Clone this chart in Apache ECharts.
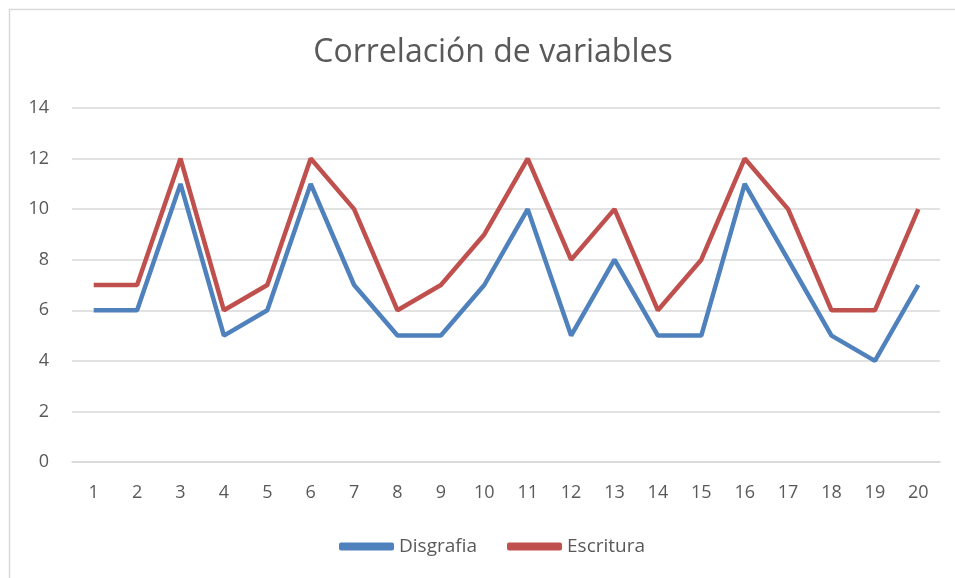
<!DOCTYPE html>
<html><head><meta charset="utf-8">
<script src="https://cdn.jsdelivr.net/npm/echarts@6/dist/echarts.min.js"></script>
<style>html,body{margin:0;padding:0;background:#fff}#c{width:955px;height:578px}</style>
</head><body><div id="c"></div>
<script>
const categories = ['1','2','3','4','5','6','7','8','9','10','11','12','13','14','15','16','17','18','19','20'];
const disgrafia = [6,6,11,5,6,11,7,5,5,7,10,5,8,5,5,11,8,5,4,7];
const escritura = [7,7,12,6,7,12,10,6,7,9,12,8,10,6,8,12,10,6,6,10];
const yTicks = {min:0, max:14, interval:2};
const font = 'Open Sans, Noto Sans, sans-serif';
const chart = echarts.init(document.getElementById('c'));
chart.setOption({
  animation:false,
  graphic:[{type:'rect', shape:{x:9.5,y:9.5,width:970,height:600}, style:{fill:'none', stroke:'#d9d9d9', lineWidth:1.5}, silent:true}],
  title:{text:'Correlación de variables', left:488, textAlign:'center', top:32, textStyle:{fontFamily:font, fontSize:32, fontWeight:'normal', color:'#595959'}},
  legend:{bottom:17, left:334, itemWidth:55, itemHeight:8, itemGap:30, icon:'roundRect',
    textStyle:{fontFamily:font, fontSize:19, color:'#595959', padding:[0,0,0,0]}, data:['Disgrafia','Escritura']},
  grid:{left:72, right:15, top:108, bottom:116, containLabel:false},
  xAxis:{type:'category', data:categories, boundaryGap:true,
    axisLine:{lineStyle:{color:'#d9d9d9', width:1.5}}, axisTick:{show:false},
    axisLabel:{fontFamily:font, fontSize:18, color:'#595959', margin:22}},
  yAxis:{type:'value', min:yTicks.min, max:yTicks.max, interval:yTicks.interval,
    axisLine:{show:false}, axisTick:{show:false},
    splitLine:{lineStyle:{color:'#d9d9d9', width:1.5}},
    axisLabel:{fontFamily:font, fontSize:18, color:'#595959', margin:23}},
  series:[
    {name:'Disgrafia', type:'line', data:disgrafia, symbol:'none', lineStyle:{color:'#4f81bd', width:4.5}, itemStyle:{color:'#4f81bd'}},
    {name:'Escritura', type:'line', data:escritura, symbol:'none', lineStyle:{color:'#c0504d', width:4.5}, itemStyle:{color:'#c0504d'}}
  ]
});
</script></body></html>
